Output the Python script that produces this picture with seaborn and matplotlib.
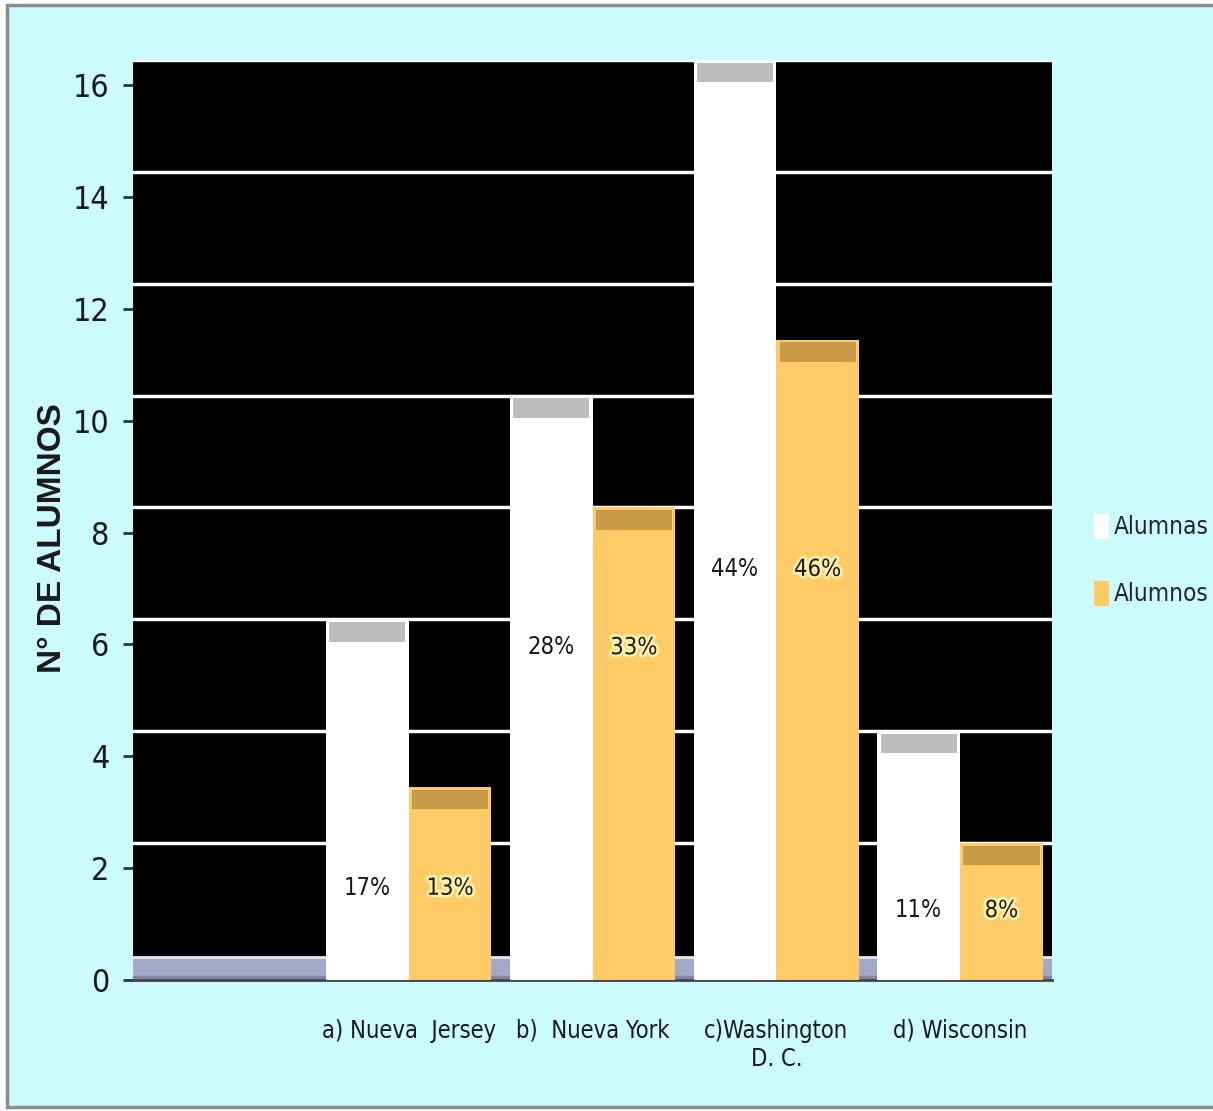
import matplotlib
matplotlib.use("Agg")
import matplotlib.pyplot as plt
import matplotlib.patheffects as pe
from matplotlib.patches import Rectangle, Patch
import seaborn as sns
import pandas as pd

# ---- data ----
estados = ["a) Nueva  Jersey", "b)  Nueva York", "c)Washington\nD. C.", "d) Wisconsin"]
alumnas = [6, 10, 16, 4]
alumnos = [3, 8, 11, 2]
pct_alumnas = ["17%", "28%", "44%", "11%"]
pct_alumnos = ["13%", "33%", "46%", "8%"]
yticks = [0, 2, 4, 6, 8, 10, 12, 14, 16]

# ---- layout / style ----
label_y = [1.65, 5.95, 7.35, 1.25]
depth = 0.45
bg = "#CCFBFD"
col_f = "#FFFFFF"
col_m = "#FECB66"
cap_f = "#BDBDBD"
cap_m = "#C89A48"
floor_col = "#A3A8C8"

sns.set_theme(style="white")
plt.rcParams["font.family"] = ["DejaVu Sans"]
plt.rcParams["font.stretch"] = "condensed"

df = pd.DataFrame({
    "Estado": estados * 2,
    "Sexo": ["Alumnas"] * 4 + ["Alumnos"] * 4,
    "N": alumnas + alumnos,
})

fig = plt.figure(figsize=(12.13, 11.11), dpi=100, facecolor="white")
# cyan panel with gray frame
fig.patches.append(Rectangle((7 / 1213, 4 / 1111), 1.1, 1 - 9 / 1111,
                             transform=fig.transFigure, facecolor=bg,
                             edgecolor="#8C8C8C", linewidth=2.5, zorder=-5))

ax = fig.add_axes([133 / 1213, 1 - 980 / 1111, (1052 - 133) / 1213, (980 - 60) / 1111])
ax.set_facecolor("black")

sns.barplot(data=df, x="Estado", y="N", hue="Sexo", order=estados,
            hue_order=["Alumnas", "Alumnos"], palette=[col_f, col_m],
            width=0.9, linewidth=0, saturation=1, legend=False, ax=ax, zorder=3)

bars = list(ax.patches)

# floor band
ax.axhspan(0, depth - 0.03, color=floor_col, zorder=1)
ax.axhspan(0, 0.08, color="#7F86A8", zorder=1.2)
ax.axhline(depth - 0.03, color="#E6E8F2", lw=2, zorder=1.5)
# gridlines (3-D back wall, offset by depth)
for t in yticks[1:]:
    ax.axhline(t + depth, color="white", lw=2.5, zorder=2)

# caps on top of the bars
n = len(estados)
for k, b in enumerate(bars):
    h = b.get_height()
    x0, w = b.get_x(), b.get_width()
    base, cap = (col_f, cap_f) if k < n else (col_m, cap_m)
    ax.add_patch(Rectangle((x0, h), w, depth, facecolor=base, edgecolor="none", zorder=3))
    ax.add_patch(Rectangle((x0 + w * 0.04, h + 0.05), w * 0.92, depth - 0.1,
                           facecolor=cap, edgecolor="none", zorder=4))

# percent labels
for i in range(n):
    xf = bars[i].get_x() + bars[i].get_width() / 2
    xm = bars[n + i].get_x() + bars[n + i].get_width() / 2
    ax.text(xf, label_y[i], pct_alumnas[i], ha="center", va="center",
            fontsize=17, color="#1a1a1a", zorder=6)
    ax.text(xm, label_y[i], pct_alumnos[i], ha="center", va="center",
            fontsize=17, color="#1a1a1a", zorder=6,
            path_effects=[pe.withStroke(linewidth=4, foreground="#FFF2A8")])

ax.set_xlim(-1.5, n - 0.5)
ax.set_ylim(0, 16 + depth)
ax.set_yticks(yticks)
ax.set_yticklabels([str(t) for t in yticks], fontsize=23, color="#1a1a1a")
ax.tick_params(axis="y", direction="out", length=7, width=2, color="#333333", pad=10, left=True)
ax.tick_params(axis="x", length=0, pad=28, labelsize=17, labelcolor="#1a1a1a")
ax.set_xlabel("")
ax.set_ylabel("N° DE ALUMNOS", fontsize=24, fontweight="bold",
              family=["Liberation Sans", "DejaVu Sans"], fontstretch="normal",
              color="#1a1a1a")
ax.yaxis.set_label_coords(-0.071, 0.48)
for s in ["top", "right", "left"]:
    ax.spines[s].set_visible(False)
ax.spines["bottom"].set_color("#444444")
ax.spines["bottom"].set_linewidth(2)

handles = [Patch(facecolor=col_f, edgecolor="none", label="Alumnas"),
           Patch(facecolor=col_m, edgecolor="none", label="Alumnos")]
fig.legend(handles=handles, loc="center left", bbox_to_anchor=(1094 / 1213, 1 - 560 / 1111),
           frameon=False, fontsize=17.5, handlelength=0.6, handleheight=1.2,
           handletextpad=0.2, labelspacing=1.7, borderaxespad=0, borderpad=0)

fig.savefig("out.png", dpi=100, facecolor=fig.get_facecolor())
